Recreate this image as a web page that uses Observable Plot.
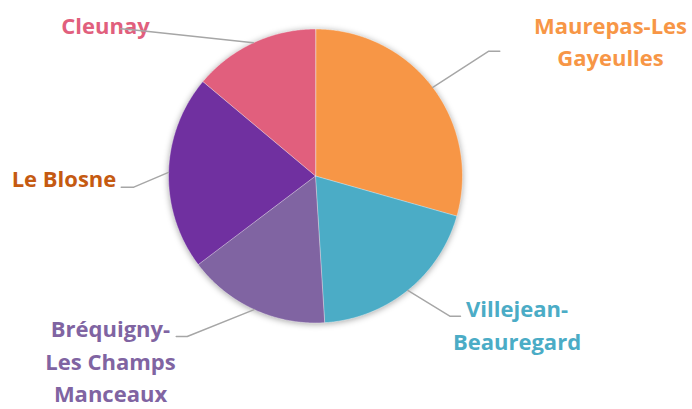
<!DOCTYPE html>
<html><head><meta charset="utf-8">
<script src="https://cdn.jsdelivr.net/npm/d3@7"></script>
<script src="https://cdn.jsdelivr.net/npm/@observablehq/plot@0.6"></script>
<style>html,body{margin:0;padding:0;background:#fff;}</style>
</head><body><div id="chart"></div>
<script>
// ---- data ----
const quartiers = ["Maurepas-Les Gayeulles", "Villejean-Beauregard", "Bréquigny-Les Champs Manceaux", "Le Blosne", "Cleunay"];
const labelTexts = ["Maurepas-Les\nGayeulles", "Villejean-\nBeauregard", "Bréquigny-\nLes Champs\nManceaux", "Le Blosne", "Cleunay"];
const parts = [29.4, 19.6, 15.7, 21.4, 13.9];
const sliceColors = ["#F79646", "#4BACC6", "#8064A2", "#7030A0", "#E15F7D"];
const labelColors = ["#F79646", "#4BACC6", "#8064A2", "#C55A11", "#E15F7D"];

// ---- layout (pixels) ----
const W = 692, H = 409, CX = 315, CY = 175.5, R = 147;
const FONT = 22, LINE = 32.5;
const labelLayout = [
  {x: 610, y: 65.5, elbow: [488.3, 50.7], end: [499.3, 50.7]},
  {x: 516.5, y: 349, elbow: [449.3, 315.7], end: [460, 315.7]},
  {x: 110, y: 401.7, elbow: [186.7, 336], end: [175.7, 336]},
  {x: 63.5, y: 186.7, elbow: [133.3, 186.7], end: [120.7, 186.7]},
  {x: 105, y: 33.5, elbow: [134, 29.5], end: [120, 28.3]}
];
const toX = px => (px - CX) / R;
const toY = py => (CY - py) / R;

const rows = quartiers.map((q, i) => ({name: q, value: parts[i]}));
const arcs = d3.pie().sort(null).value(d => d.value)(rows);

// slice polygons in unit-radius coordinates
const slicePts = [];
for (const a of arcs) {
  const name = a.data.name;
  slicePts.push({name, x: 0, y: 0});
  const n = Math.max(2, Math.ceil((a.endAngle - a.startAngle) / (Math.PI / 360)));
  for (let k = 0; k <= n; k++) {
    const t = a.startAngle + (a.endAngle - a.startAngle) * k / n;
    slicePts.push({name, x: Math.sin(t), y: Math.cos(t)});
  }
}

// leader lines: slice edge at mid-angle -> elbow -> label
const leaderPts = [];
arcs.forEach((a, i) => {
  const m = (a.startAngle + a.endAngle) / 2;
  const L = labelLayout[i];
  leaderPts.push({name: a.data.name, x: Math.sin(m), y: Math.cos(m)});
  leaderPts.push({name: a.data.name, x: toX(L.elbow[0]), y: toY(L.elbow[1])});
  leaderPts.push({name: a.data.name, x: toX(L.end[0]), y: toY(L.end[1])});
});

const textMarks = labelTexts.map((t, i) => Plot.text([{t, x: toX(labelLayout[i].x), y: toY(labelLayout[i].y)}], {
  x: "x", y: "y", text: "t", fill: labelColors[i], fontSize: FONT, fontWeight: 700,
  textAnchor: "middle", lineAnchor: "bottom", lineHeight: LINE / FONT
}));

const chart = Plot.plot({
  width: W, height: H, margin: 0,
  style: {fontFamily: "'Open Sans', Lato, sans-serif", background: "#fff"},
  x: {domain: [toX(0), toX(W)], axis: null},
  y: {domain: [toY(H), toY(0)], axis: null},
  color: {domain: quartiers, range: sliceColors},
  marks: [
    Plot.line(slicePts, {x: "x", y: "y", z: "name", fill: "name", stroke: "#fff", strokeWidth: 0.4, curve: "linear-closed", className: "slices"}),
    ...textMarks,
    Plot.line(leaderPts, {x: "x", y: "y", z: "name", stroke: "#A6A6A6", strokeWidth: 1.4})
  ]
});
const g = chart.querySelector('g.slices') || chart.querySelector('.slices');
if (g) g.style.filter = "drop-shadow(0px 1px 3px rgba(0,0,0,0.35))";
document.getElementById("chart").appendChild(chart);
</script>
</body></html>
